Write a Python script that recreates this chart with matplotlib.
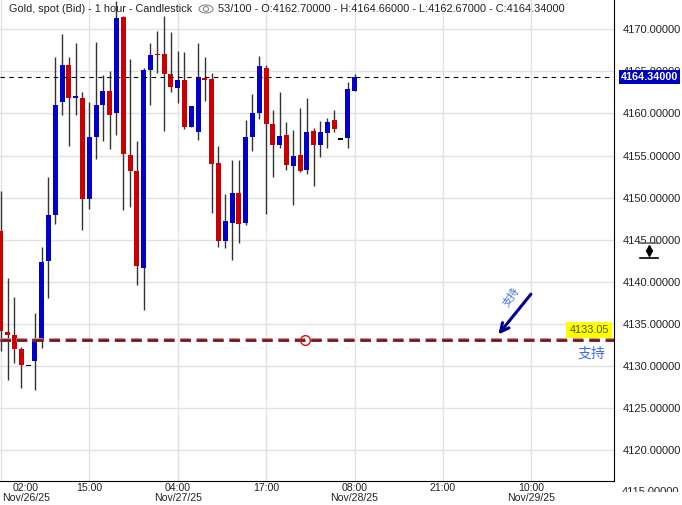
import matplotlib
matplotlib.use("Agg")
import matplotlib.pyplot as plt
from matplotlib.lines import Line2D
from matplotlib.patches import Rectangle, Ellipse
from matplotlib.transforms import ScaledTranslation, blended_transform_factory
import matplotlib.patheffects as pe
import numpy as np

plt.rcParams['font.family'] = ['Liberation Sans', 'Noto Sans CJK SC', 'DejaVu Sans']

# hourly candles, Gold spot (Bid)
opens = [4146.0, 4134.0, 4133.7, 4132.0, 4130.0, 4130.6, 4133.2, 4142.5, 4147.9, 4161.4,
         4165.8, 4161.8, 4161.8, 4149.8, 4157.2, 4161.0, 4162.7, 4160.0, 4171.5, 4155.1,
         4153.2, 4141.6, 4165.2, 4167.1, 4167.1, 4164.7, 4163.0, 4164.0, 4158.4, 4157.8,
         4164.2, 4164.1, 4154.1, 4144.8, 4147.0, 4150.6, 4147.0, 4157.2, 4160.1, 4165.4,
         4158.8, 4156.3, 4157.4, 4153.8, 4155.1, 4153.3, 4157.9, 4156.3, 4157.7, 4159.2,
         4156.9, 4157.1, 4162.70]
closes = [4134.2, 4133.7, 4132.0, 4130.1, 4130.0, 4133.2, 4142.4, 4147.9, 4161.0, 4165.8,
          4161.8, 4162.1, 4149.8, 4157.2, 4161.0, 4162.7, 4159.8, 4171.4, 4155.2, 4153.2,
          4141.9, 4165.2, 4166.9, 4166.9, 4164.7, 4163.1, 4164.0, 4158.4, 4160.9, 4164.3,
          4164.0, 4154.0, 4144.9, 4147.2, 4150.6, 4146.9, 4157.2, 4160.0, 4165.7, 4158.7,
          4156.3, 4157.3, 4153.9, 4155.0, 4153.2, 4157.8, 4156.3, 4157.8, 4159.0, 4158.1,
          4156.9, 4162.9, 4164.34]
highs = [4150.8, 4140.5, 4138.2, 4132.3, 4130.0, 4136.3, 4144.1, 4152.5, 4166.7, 4169.5,
         4166.7, 4168.4, 4162.5, 4161.4, 4168.5, 4164.6, 4165.1, 4173.4, 4171.6, 4166.5,
         4156.7, 4165.4, 4168.4, 4169.8, 4171.6, 4169.7, 4167.4, 4167.3, 4160.9, 4168.4,
         4166.7, 4164.8, 4156.1, 4150.4, 4154.5, 4154.5, 4159.2, 4162.3, 4166.8, 4165.8,
         4160.4, 4162.5, 4159.0, 4158.0, 4160.7, 4161.8, 4158.3, 4159.1, 4159.5, 4160.4,
         4156.9, 4163.7, 4164.66]
lows = [4131.8, 4128.4, 4130.4, 4127.4, 4130.0, 4127.2, 4132.2, 4138.1, 4146.9, 4159.8,
        4156.1, 4159.8, 4146.2, 4148.7, 4154.6, 4156.7, 4155.8, 4157.4, 4148.5, 4148.9,
        4139.6, 4136.7, 4161.0, 4164.8, 4157.9, 4162.5, 4161.3, 4158.2, 4158.4, 4156.9,
        4161.5, 4148.2, 4144.1, 4144.0, 4142.6, 4144.6, 4146.8, 4155.5, 4159.4, 4148.1,
        4152.4, 4155.9, 4153.3, 4149.1, 4153.0, 4152.8, 4151.4, 4154.8, 4155.9, 4157.8,
        4156.9, 4155.9, 4162.67]

time_ticks = [0, 13, 26, 39, 52, 65, 78]
time_labels = ["02:00\nNov/26/25", "15:00", "04:00\nNov/27/25", "17:00",
               "08:00\nNov/28/25", "21:00", "10:00\nNov/29/25"]
price_ticks = [4120, 4125, 4130, 4135, 4140, 4145, 4150, 4155, 4160, 4165, 4170]

last_price = 4164.34
support = 4133.05

o = np.array(opens); c = np.array(closes)
h = np.array(highs); l = np.array(lows)
idx = np.arange(len(o))

fig = plt.figure(figsize=(6.82, 5.05), dpi=100)
ax = fig.add_axes([0, 24/505, 614/682, 481/505])
ax.set_xlim(-0.13, 90.16)
ax.set_ylim(4116.35, 4173.48)

ax.grid(True, color='#e2e2e2', lw=1.0)
ax.set_axisbelow(True)

# wicks
ax.vlines(idx, l, h, color='#333333', lw=1.0, zorder=2)
# bodies
up = c >= o
body_lo = np.minimum(o, c)
body_h = np.maximum(np.abs(c - o), 0.13)
cols = np.where(up, '#0000c8', '#c80000')
doji = np.abs(c - o) < 0.05
cols = np.where(doji, '#000000', cols)
ax.bar(idx, body_h, bottom=body_lo, width=0.74, color=cols, zorder=3)

# last price line
ax.axhline(last_price, color='black', lw=0.8, dashes=(4, 4), zorder=4)
tr = blended_transform_factory(ax.transAxes, ax.transData)
ax.text(1.011, last_price, "4164.34000", transform=tr, ha='left', va='center',
        fontsize=7.8, color='white', fontweight='bold', clip_on=False, zorder=6,
        bbox=dict(boxstyle='square,pad=0.15', fc='#0000c0', ec='none'))

# support line
ax.axhline(support, color='#7a1414', lw=1.9, dashes=(4, 2.2), zorder=5,
           path_effects=[pe.Stroke(linewidth=2.8, foreground='#c09090'), pe.Normal()])
ax.plot([44.7], [support], marker='o', ms=7, mfc='none', mec='#e01010', mew=1.0, zorder=6)
ax.text(89.4, 4134.3, "4133.05", ha='right', va='center', fontsize=7.8, color='#4a5a00',
        zorder=7, bbox=dict(boxstyle='square,pad=0.3', fc='#ffff00', ec='none'))
ax.text(86.8, 4131.5, "支持", ha='center', va='center', fontsize=10, color='#3f6be8',
        family=['Noto Sans CJK SC', 'DejaVu Sans'], zorder=7)
ax.annotate("", xy=(72.9, 4133.5), xytext=(78.2, 4138.8),
            arrowprops=dict(arrowstyle='->,head_length=0.6,head_width=0.3',
                            color='#000090', lw=2.2), zorder=7)
ax.text(75.0, 4138.2, "支持", ha='center', va='center', fontsize=7.5, color='#3f6be8',
        rotation=55, family=['Noto Sans CJK SC', 'DejaVu Sans'], zorder=7)

# axes styling
for s in ['top', 'left']:
    ax.spines[s].set_visible(False)
ax.spines['right'].set_color('black')
ax.spines['bottom'].set_color('black')
ax.yaxis.tick_right()
ax.set_yticks(price_ticks)
ax.set_yticklabels([f"{p:.5f}" for p in price_ticks])
ax.tick_params(axis='y', length=0, pad=6, labelsize=8, labelcolor='#222222')
ax.set_xticks(time_ticks)
ax.set_xticklabels(time_labels)
ax.tick_params(axis='x', length=0, pad=1.5, labelsize=7.6, labelcolor='#222222')
for lab in ax.get_xticklabels():
    lab.set_linespacing(0.95)
first = ax.get_xticklabels()[0]
first.set_transform(first.get_transform() + ScaledTranslation(0.25, 0, fig.dpi_scale_trans))

# partly hidden 4115 label at the very bottom
fig.text(622/682, 1 - 492/505, "4115.00000", ha='left', va='center', fontsize=8,
         color='#222222')
fig.add_artist(Rectangle((615/682, 0), 67/682, 13/505, transform=fig.transFigure,
                         fc='white', ec='none', zorder=5))

# scale handle icon near 4145
for yy, cc in [(243, '#666666'), (258, '#000000')]:
    fig.add_artist(Line2D([640/682, 658/682], [1 - yy/505, 1 - yy/505],
                          transform=fig.transFigure, color=cc, lw=1.2))
fig.add_artist(Line2D([649/682], [1 - 248/505], transform=fig.transFigure,
                      marker='^', ms=4, color='black', lw=0))
fig.add_artist(Line2D([649/682], [1 - 253/505], transform=fig.transFigure,
                      marker='v', ms=4, color='black', lw=0))

# title line
fig.text(9/682, 1 - 9/505, "Gold, spot (Bid) - 1 hour - Candlestick", ha='left',
         va='center', fontsize=7.8, color='#222222')
fig.add_artist(Ellipse((206/682, 1 - 9/505), 14/682, 8/505, transform=fig.transFigure,
                       fc='none', ec='#888888', lw=0.8))
fig.add_artist(Ellipse((206/682, 1 - 9/505), 5/682, 5/505, transform=fig.transFigure,
                       fc='none', ec='#888888', lw=0.8))
fig.text(218/682, 1 - 9/505,
         "53/100 - O:4162.70000 - H:4164.66000 - L:4162.67000 - C:4164.34000",
         ha='left', va='center', fontsize=7.9, color='#222222')

fig.savefig("out.png", dpi=100)
